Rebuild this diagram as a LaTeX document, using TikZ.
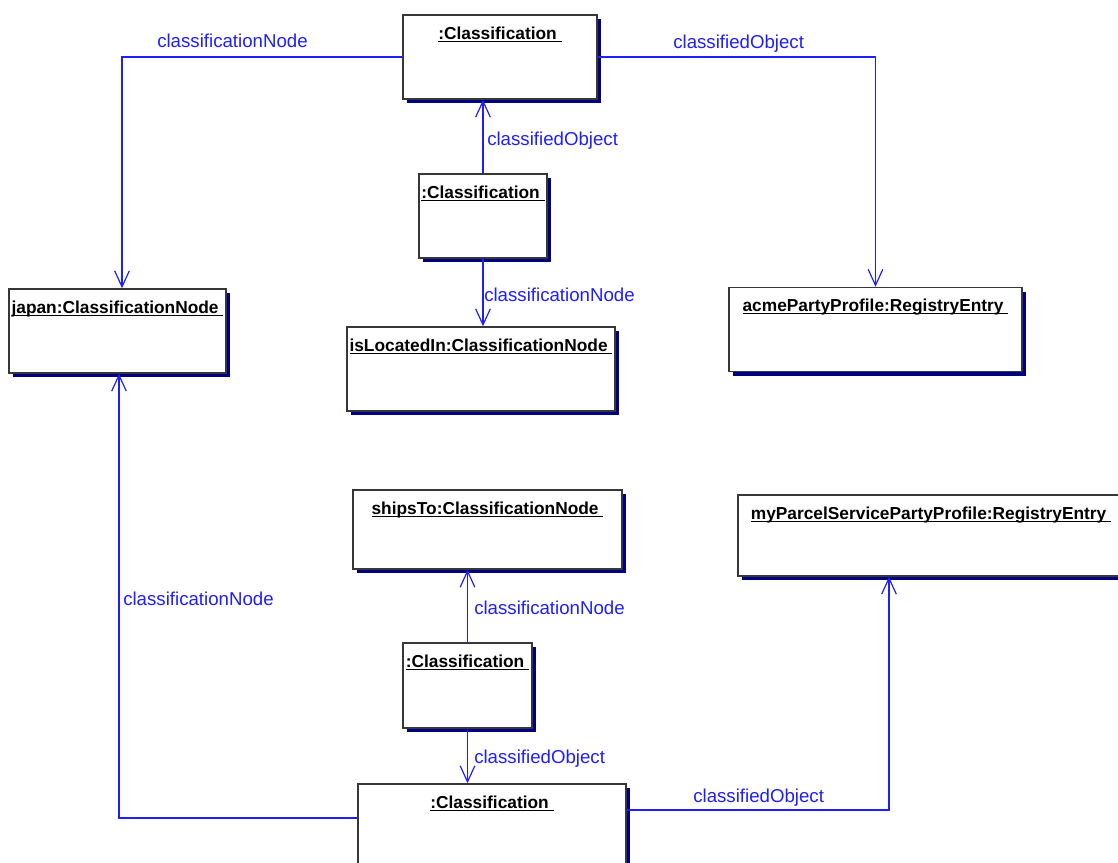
\documentclass[tikz,border=0pt]{standalone}
\usepackage{fontspec}
\setmainfont{Liberation Sans}
\usepackage{tikz}
\usetikzlibrary{arrows.meta,shadows}
\definecolor{umlblue}{RGB}{30,30,255}
\definecolor{umlshadow}{RGB}{0,0,128}
\definecolor{umlframe}{RGB}{55,55,55}
\newcommand{\objname}[1]{\underline{\smash{#1\ }}}

\begin{document}
\begin{tikzpicture}[x=0.75pt,y=0.75pt,yscale=-1,xscale=1,
  objbox/.style={draw=umlframe,line width=1.1pt,fill=white,inner sep=0pt,minimum height=63pt,
    drop shadow={shadow xshift=3.3pt,shadow yshift=-3.3pt,fill=umlshadow,opacity=1}},
  objtitle/.style={anchor=north,inner xsep=0pt,inner ysep=7.5pt,text height=11pt,
    font=\fontsize{13}{15}\selectfont\bfseries},
  assoc/.style={draw=umlblue,line width=0.9pt,-{Straight Barb[length=12pt,width=11pt]}},
  rolename/.style={anchor=base west,inner sep=0pt,text=umlblue,font=\fontsize{14}{17}\selectfont}]
\clip (0,0) rectangle (1118,863);

%Shape: Rectangle [c1]
\node[objbox,minimum width=145.5pt,label={[objtitle]north:\objname{:Classification}}] (c1) at (500,57) {};
%Shape: Rectangle [c2]
\node[objbox,minimum width=96pt,label={[objtitle]north:\objname{:Classification}}] (c2) at (483,216) {};
%Shape: Rectangle [japan]
\node[objbox,minimum width=162.75pt,label={[objtitle]north:\objname{japan:ClassificationNode}}] (japan) at (117.5,331) {};
%Shape: Rectangle [islocated]
\node[objbox,minimum width=201pt,label={[objtitle]north:\objname{isLocatedIn:ClassificationNode}}] (islocated) at (481,369) {};
%Shape: Rectangle [acme]
\node[objbox,minimum width=219.75pt,label={[objtitle]north:\objname{acmePartyProfile:RegistryEntry}}] (acme) at (875.5,329.5) {};
%Shape: Rectangle [shipsto]
\node[objbox,minimum width=201.75pt,minimum height=59.25pt,label={[objtitle]north:\objname{shipsTo:ClassificationNode}}] (shipsto) at (487.5,529.5) {};
%Shape: Rectangle [myparcel]
\node[objbox,minimum width=289.5pt,minimum height=60.75pt,label={[objtitle]north:\objname{myParcelServicePartyProfile:RegistryEntry}}] (myparcel) at (931,535.5) {};
%Shape: Rectangle [c3]
\node[objbox,minimum width=96.75pt,minimum height=63.75pt,label={[objtitle]north:\objname{:Classification}}] (c3) at (467.5,685.5) {};
%Shape: Rectangle [c4]
\node[objbox,minimum width=201pt,label={[objtitle]north:\objname{:Classification}}] (c4) at (492,826) {};

%Straight Lines
\draw[assoc] (c1.west) -| (japan.north -| 122,0) ;
%Straight Lines
\draw[assoc] (c1.east) -| (acme.north) ;
%Straight Lines
\draw[assoc] (c2.north) -- (c1.south -| c2.north) ;
%Straight Lines
\draw[assoc] (c2.south) -- (islocated.north -| c2.south) ;
%Straight Lines
\draw[assoc] (c4.west |- 0,818) -| (japan.south -| 119,0) ;
%Straight Lines
\draw[assoc] (c3.north) -- (shipsto.south -| c3.north) ;
%Straight Lines
\draw[assoc] (c3.south) -- (c4.north -| c3.south) ;
%Straight Lines
\draw[assoc] (c4.east |- 0,810) -| (myparcel.south -| 889,0) ;

% Text Node
\node[rolename] (r1) at (157,48) {classificationNode};
% Text Node
\node[rolename] (r2) at (673,49) {classifiedObject};
% Text Node
\node[rolename] (r3) at (487,146) {classifiedObject};
% Text Node
\node[rolename] (r4) at (484,301) {classificationNode};
% Text Node
\node[rolename] (r5) at (123,605) {classificationNode};
% Text Node
\node[rolename] (r6) at (474,614) {classificationNode};
% Text Node
\node[rolename] (r7) at (474,763) {classifiedObject};
% Text Node
\node[rolename] (r8) at (693,802) {classifiedObject};

\end{tikzpicture}
\end{document}
